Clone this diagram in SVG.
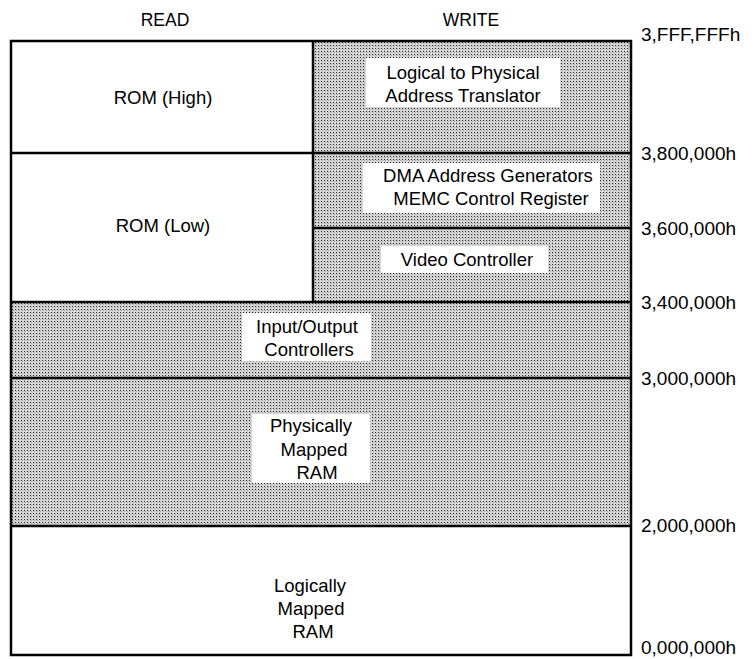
<svg xmlns="http://www.w3.org/2000/svg" width="754" height="659" viewBox="0 0 754 659">
<defs>
<pattern id="dots" width="3" height="3" patternUnits="userSpaceOnUse">
<rect width="3" height="3" fill="#d6d6d6"/>
<rect x="0" y="0" width="1" height="1" fill="#222"/>
<rect x="1" y="1" width="1" height="1" fill="#a4a4a4"/>
</pattern>
</defs>
<style>
text{font-family:"Liberation Sans",Arial,sans-serif;fill:#000;}
.lbl{font-size:18.5px;text-anchor:middle;}
.hdr{font-size:17.5px;text-anchor:middle;}
.addr{font-size:19px;text-anchor:start;}
.ln{stroke:#000;stroke-width:2.5;fill:none;}
.shade{fill:url(#dots);}
.wb{fill:#fff;}
</style>
<g id="headers">
<text class="hdr" x="165" y="26">READ</text>
<text class="hdr" x="471" y="26">WRITE</text>
</g>
<g id="regions">
<g id="rom-high"><rect x="11" y="41" width="302" height="112" fill="#fff"/><text class="lbl" x="163" y="104">ROM (High)</text></g>
<g id="rom-low"><rect x="11" y="153" width="302" height="149" fill="#fff"/><text class="lbl" x="163" y="232">ROM (Low)</text></g>
<g id="translator"><rect class="shade" x="313" y="41" width="318" height="112"/><rect class="wb" x="366" y="58" width="194" height="49"/><text class="lbl" x="463" y="79">Logical to Physical</text><text class="lbl" x="463" y="102">Address Translator</text></g>
<g id="dma"><rect class="shade" x="313" y="153" width="318" height="75"/><rect class="wb" x="363" y="163" width="237" height="50"/><text class="lbl" x="488" y="182">DMA Address Generators</text><text class="lbl" x="491" y="205">MEMC Control Register</text></g>
<g id="video"><rect class="shade" x="313" y="228" width="318" height="74"/><rect class="wb" x="381" y="246" width="167" height="27"/><text class="lbl" x="467" y="266">Video Controller</text></g>
<g id="io"><rect class="shade" x="11" y="302" width="620" height="76"/><rect class="wb" x="242" y="313" width="129" height="48"/><text class="lbl" x="307" y="333">Input/Output</text><text class="lbl" x="309" y="356">Controllers</text></g>
<g id="phys-ram"><rect class="shade" x="11" y="378" width="620" height="148"/><rect class="wb" x="252" y="414" width="118" height="69"/><text class="lbl" x="311" y="432">Physically</text><text class="lbl" x="314" y="456">Mapped</text><text class="lbl" x="317" y="479">RAM</text></g>
<g id="log-ram"><rect x="11" y="526" width="620" height="129" fill="#fff"/><text class="lbl" x="310" y="592">Logically</text><text class="lbl" x="311" y="615">Mapped</text><text class="lbl" x="313" y="638">RAM</text></g>
</g>
<g id="connectors">
<rect class="ln" x="11" y="41" width="620" height="614"/>
<line class="ln" x1="313" y1="41" x2="313" y2="302"/>
<line class="ln" x1="11" y1="153" x2="631" y2="153"/>
<line class="ln" x1="313" y1="228" x2="631" y2="228"/>
<line class="ln" x1="11" y1="302" x2="631" y2="302"/>
<line class="ln" x1="11" y1="378" x2="631" y2="378"/>
<line class="ln" x1="11" y1="526" x2="631" y2="526"/>
</g>
<g id="addresses">
<text class="addr" x="641" y="41">3,FFF,FFFh</text>
<text class="addr" x="641" y="160">3,800,000h</text>
<text class="addr" x="641" y="235">3,600,000h</text>
<text class="addr" x="641" y="309">3,400,000h</text>
<text class="addr" x="641" y="385">3,000,000h</text>
<text class="addr" x="641" y="532">2,000,000h</text>
<text class="addr" x="641" y="654">0,000,000h</text>
</g>
</svg>
